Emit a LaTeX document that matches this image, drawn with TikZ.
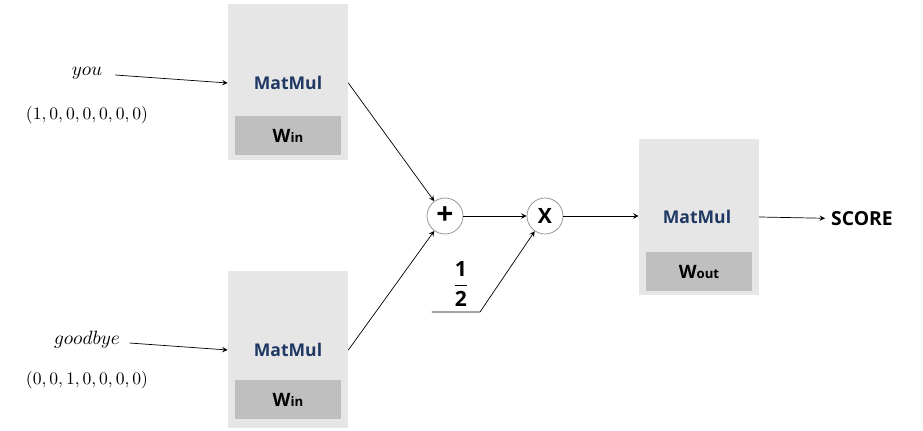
\documentclass[tikz,border=0pt]{standalone}
\usepackage{amsmath}
\usepackage{fontspec}
\newfontfamily\labelfont{Open Sans}
\usetikzlibrary{arrows}
\definecolor{boxgray}{HTML}{E6E6E6}
\definecolor{wgray}{HTML}{BFBFBF}
\definecolor{matblue}{HTML}{1F3864}
\definecolor{ringgray}{HTML}{8C8C8C}
\begin{document}
\begin{tikzpicture}[line cap=round, line join=round, >=stealth, x=0.02cm, y=-0.02cm,
		layer/.style={fill=boxgray, minimum width=2.4cm, minimum height=3.14cm, inner sep=0pt},
		weight/.style={fill=wgray, minimum width=2.12cm, minimum height=0.78cm, inner sep=0pt, font=\labelfont\bfseries\fontsize{10.5}{12}\selectfont},
		matmul/.style={text=matblue, font=\labelfont\bfseries\fontsize{10}{12}\selectfont},
		gate/.style={circle, draw=ringgray, fill=white, minimum size=0.72cm, inner sep=0pt, font=\labelfont\bfseries\fontsize{12}{14}\selectfont},
		word/.style={font=\fontsize{10.5}{12}\selectfont}]
			\useasboundingbox (0,0) rectangle (923,431);
			
			% 1. Các từ đầu vào
			\node[word] (you) at (87,73) {$you$};
			\node[word, font=\fontsize{9.8}{12}\selectfont] (onehot1) at (87,115) {$(1,0,0,0,0,0,0)$};
			\node[word] (bye) at (87,340) {$goodbye$};
			\node[word, font=\fontsize{9.8}{12}\selectfont] (onehot2) at (87,380) {$(0,0,1,0,0,0,0)$};
			
			% 2. Hai lớp MatMul đầu vào
			\node[layer] (layer1) at (288,82) {};
			\node[matmul] (mat1) at (288,83) {MatMul};
			\node[weight] (w1) at (288,135.5) {W{\fontsize{7.5}{9}\selectfont in}};
			\node[layer] (layer2) at (288,349.5) {};
			\node[matmul] (mat2) at (288,350) {MatMul};
			\node[weight] (w2) at (288,400) {W{\fontsize{7.5}{9}\selectfont in}};
			
			% 3. Cộng rồi nhân 1/2
			\node[gate, font=\labelfont\bfseries\fontsize{17}{18}\selectfont] (plus) at (445,216) {+};
			\node[gate] (times) at (545,216) {X};
			\node[font=\labelfont\bfseries\fontsize{12}{14}\selectfont] (half) at (461,284) {$\genfrac{}{}{0.9pt}{0}{\mbox{1}}{\mbox{2}}$};
			\coordinate (h1) at (432,312);
			\coordinate (h2) at (480,312);
			
			% 4. Lớp MatMul đầu ra
			\node[layer] (layer3) at (699,217) {};
			\node[matmul] (mat3) at (697,217) {MatMul};
			\node[weight] (w3) at (699,271.5) {W{\fontsize{7.5}{9}\selectfont out}};
			\node[font=\labelfont\bfseries\fontsize{11}{13}\selectfont] (score) at (862,219) {SCORE};
			
			% 5. Các mũi tên
			\draw[->, shorten <=4pt] (you) -- (layer1.west |- mat1);
			\draw[->, shorten <=2pt] (bye) -- (layer2.west |- mat2);
			\draw[->] (layer1.east |- mat1) -- (plus);
			\draw[->] (layer2.east |- mat2) -- (plus);
			\draw[->] (plus) -- (times);
			\draw[->] (h1) -- (h2) -- (times);
			\draw[->] (times) -- (layer3.west |- times);
			\draw[->] (layer3.east |- mat3) -- (score);
	\end{tikzpicture}
\end{document}
